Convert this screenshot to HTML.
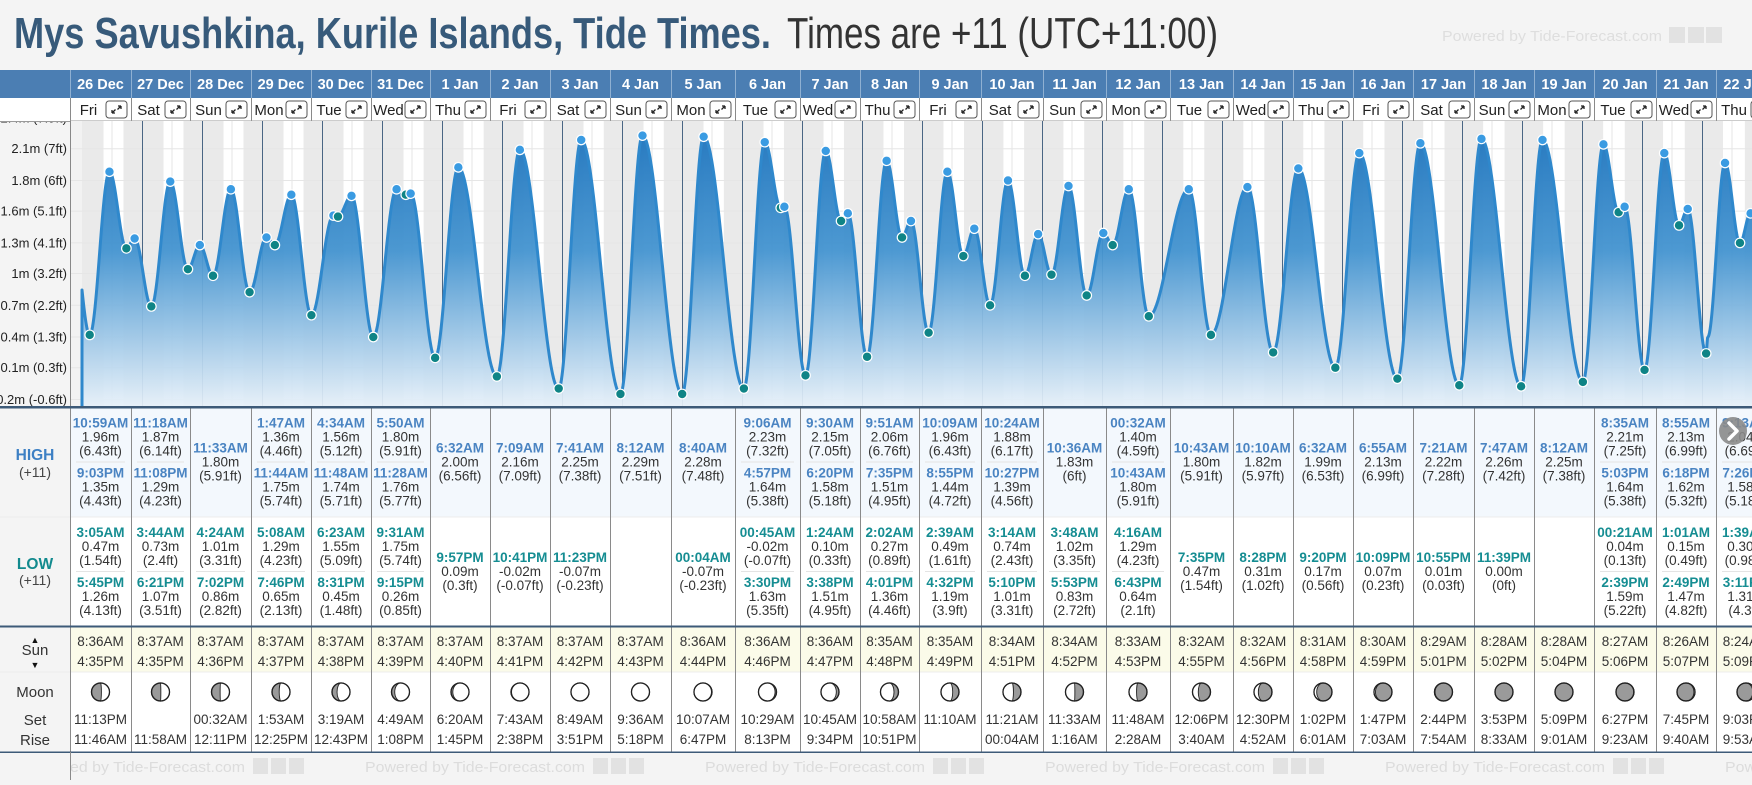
<!DOCTYPE html>
<html><head><meta charset="utf-8"><title>Mys Savushkina Tide Times</title>
<style>
html,body{margin:0;padding:0;background:#f4f4f4;}
body{width:1752px;height:780px;overflow:hidden;position:relative;font-family:"Liberation Sans",sans-serif;}
svg text{font-family:"Liberation Sans","DejaVu Sans",sans-serif;}
</style></head>
<body>
<svg id="root" xmlns="http://www.w3.org/2000/svg" width="1752" height="780" viewBox="0 0 1752 780">
<defs>
<linearGradient id="fillGrad" gradientUnits="userSpaceOnUse" x1="0" y1="125" x2="0" y2="406">
<stop offset="0" stop-color="#1f74bd" stop-opacity="0.97"/>
<stop offset="0.45" stop-color="#4494d0" stop-opacity="0.95"/>
<stop offset="1" stop-color="#e6f0f9" stop-opacity="0.93"/>
</linearGradient>
<clipPath id="chartClip"><rect x="70" y="121" width="1682" height="286"/></clipPath>
<clipPath id="pageClip"><rect x="70" y="0" width="1682" height="780"/></clipPath>
</defs>
<rect x="0" y="0" width="1752" height="780" fill="#f4f4f4"/>
<text x="14" y="48" font-size="44" font-weight="bold" fill="#375a7a" textLength="757" lengthAdjust="spacingAndGlyphs">Mys Savushkina, Kurile Islands, Tide Times.</text>
<text x="787" y="48" font-size="44" fill="#333" textLength="431" lengthAdjust="spacingAndGlyphs">Times are +11 (UTC+11:00)</text>
<g id="layer"></g>
</svg>
<script>
// ---------------- DATA ----------------
const dates = ["26 Dec","27 Dec","28 Dec","29 Dec","30 Dec","31 Dec","1 Jan","2 Jan","3 Jan","4 Jan","5 Jan","6 Jan","7 Jan","8 Jan","9 Jan","10 Jan","11 Jan","12 Jan","13 Jan","14 Jan","15 Jan","16 Jan","17 Jan","18 Jan","19 Jan","20 Jan","21 Jan","22 Jan"];
const dows = ["Fri","Sat","Sun","Mon","Tue","Wed","Thu","Fri","Sat","Sun","Mon","Tue","Wed","Thu","Fri","Sat","Sun","Mon","Tue","Wed","Thu","Fri","Sat","Sun","Mon","Tue","Wed","Thu"];
const highs = [
 [["10:59AM",1.96,"6.43ft"],["9:03PM",1.35,"4.43ft"]],
 [["11:18AM",1.87,"6.14ft"],["11:08PM",1.29,"4.23ft"]],
 [["11:33AM",1.80,"5.91ft"]],
 [["1:47AM",1.36,"4.46ft"],["11:44AM",1.75,"5.74ft"]],
 [["4:34AM",1.56,"5.12ft"],["11:48AM",1.74,"5.71ft"]],
 [["5:50AM",1.80,"5.91ft"],["11:28AM",1.76,"5.77ft"]],
 [["6:32AM",2.00,"6.56ft"]],
 [["7:09AM",2.16,"7.09ft"]],
 [["7:41AM",2.25,"7.38ft"]],
 [["8:12AM",2.29,"7.51ft"]],
 [["8:40AM",2.28,"7.48ft"]],
 [["9:06AM",2.23,"7.32ft"],["4:57PM",1.64,"5.38ft"]],
 [["9:30AM",2.15,"7.05ft"],["6:20PM",1.58,"5.18ft"]],
 [["9:51AM",2.06,"6.76ft"],["7:35PM",1.51,"4.95ft"]],
 [["10:09AM",1.96,"6.43ft"],["8:55PM",1.44,"4.72ft"]],
 [["10:24AM",1.88,"6.17ft"],["10:27PM",1.39,"4.56ft"]],
 [["10:36AM",1.83,"6ft"]],
 [["00:32AM",1.40,"4.59ft"],["10:43AM",1.80,"5.91ft"]],
 [["10:43AM",1.80,"5.91ft"]],
 [["10:10AM",1.82,"5.97ft"]],
 [["6:32AM",1.99,"6.53ft"]],
 [["6:55AM",2.13,"6.99ft"]],
 [["7:21AM",2.22,"7.28ft"]],
 [["7:47AM",2.26,"7.42ft"]],
 [["8:12AM",2.25,"7.38ft"]],
 [["8:35AM",2.21,"7.25ft"],["5:03PM",1.64,"5.38ft"]],
 [["8:55AM",2.13,"6.99ft"],["6:18PM",1.62,"5.32ft"]],
 [["9:13AM",2.04,"6.69ft"],["7:26PM",1.58,"5.18ft"]]
];
const lows = [
 [["3:05AM",0.47,"1.54ft"],["5:45PM",1.26,"4.13ft"]],
 [["3:44AM",0.73,"2.4ft"],["6:21PM",1.07,"3.51ft"]],
 [["4:24AM",1.01,"3.31ft"],["7:02PM",0.86,"2.82ft"]],
 [["5:08AM",1.29,"4.23ft"],["7:46PM",0.65,"2.13ft"]],
 [["6:23AM",1.55,"5.09ft"],["8:31PM",0.45,"1.48ft"]],
 [["9:31AM",1.75,"5.74ft"],["9:15PM",0.26,"0.85ft"]],
 [["9:57PM",0.09,"0.3ft"]],
 [["10:41PM",-0.02,"-0.07ft"]],
 [["11:23PM",-0.07,"-0.23ft"]],
 [],
 [["00:04AM",-0.07,"-0.23ft"]],
 [["00:45AM",-0.02,"-0.07ft"],["3:30PM",1.63,"5.35ft"]],
 [["1:24AM",0.10,"0.33ft"],["3:38PM",1.51,"4.95ft"]],
 [["2:02AM",0.27,"0.89ft"],["4:01PM",1.36,"4.46ft"]],
 [["2:39AM",0.49,"1.61ft"],["4:32PM",1.19,"3.9ft"]],
 [["3:14AM",0.74,"2.43ft"],["5:10PM",1.01,"3.31ft"]],
 [["3:48AM",1.02,"3.35ft"],["5:53PM",0.83,"2.72ft"]],
 [["4:16AM",1.29,"4.23ft"],["6:43PM",0.64,"2.1ft"]],
 [["7:35PM",0.47,"1.54ft"]],
 [["8:28PM",0.31,"1.02ft"]],
 [["9:20PM",0.17,"0.56ft"]],
 [["10:09PM",0.07,"0.23ft"]],
 [["10:55PM",0.01,"0.03ft"]],
 [["11:39PM",0.00,"0ft"]],
 [],
 [["00:21AM",0.04,"0.13ft"],["2:39PM",1.59,"5.22ft"]],
 [["1:01AM",0.15,"0.49ft"],["2:49PM",1.47,"4.82ft"]],
 [["1:39AM",0.30,"0.98ft"],["3:11PM",1.31,"4.3ft"]]
];
const edgeTimes = [-3.5, 26*24+24+2.3];
const edgeValues = [1.38, 0.45];
const sunrise = ["8:36AM","8:37AM","8:37AM","8:37AM","8:37AM","8:37AM","8:37AM","8:37AM","8:37AM","8:37AM","8:36AM","8:36AM","8:36AM","8:35AM","8:35AM","8:34AM","8:34AM","8:33AM","8:32AM","8:32AM","8:31AM","8:30AM","8:29AM","8:28AM","8:28AM","8:27AM","8:26AM","8:24AM"];
const sunset = ["4:35PM","4:35PM","4:36PM","4:37PM","4:38PM","4:39PM","4:40PM","4:41PM","4:42PM","4:43PM","4:44PM","4:46PM","4:47PM","4:48PM","4:49PM","4:51PM","4:52PM","4:53PM","4:55PM","4:56PM","4:58PM","4:59PM","5:01PM","5:02PM","5:04PM","5:06PM","5:07PM","5:09PM"];
const moonSet = ["11:13PM","","00:32AM","1:53AM","3:19AM","4:49AM","6:20AM","7:43AM","8:49AM","9:36AM","10:07AM","10:29AM","10:45AM","10:58AM","11:10AM","11:21AM","11:33AM","11:48AM","12:06PM","12:30PM","1:02PM","1:47PM","2:44PM","3:53PM","5:09PM","6:27PM","7:45PM","9:03PM"];
const moonRise = ["11:46AM","11:58AM","12:11PM","12:25PM","12:43PM","1:08PM","1:45PM","2:38PM","3:51PM","5:18PM","6:47PM","8:13PM","9:34PM","10:51PM","","00:04AM","1:16AM","2:28AM","3:40AM","4:52AM","6:01AM","7:03AM","7:54AM","8:33AM","9:01AM","9:23AM","9:40AM","9:53AM"];
const moonLit = [0.45,0.48,0.52,0.6,0.72,0.82,0.9,0.97,1,1,0.97,0.92,0.85,0.75,0.65,0.58,0.52,0.42,0.32,0.24,0.15,0.08,0.03,0,0,0.02,0.06,0.12];
const moonSide = ["R","R","R","R","R","R","R","R","R","L","L","L","L","L","L","L","L","L","L","L","L","L","L","L","L","R","R","R"];
const tickValues = [2.45,2.17,1.88,1.60,1.31,1.03,0.74,0.45,0.17,-0.12];
const tickLabels = ["2.4m (7.9ft)","2.1m (7ft)","1.8m (6ft)","1.6m (5.1ft)","1.3m (4.1ft)","1m (3.2ft)","0.7m (2.2ft)","0.4m (1.3ft)","0.1m (0.3ft)","-0.2m (-0.6ft)"];

// ---------------- LAYOUT ----------------
const colX = [70,131,190,251,311,371,430,490,550,610,671,735,800,860,919,981,1043,1106,1170,1233,1293,1353,1413,1474,1534,1594,1656,1716,1776];
const CH_TOP = 121, CH_BOT = 406, X0 = 82, DAYW = 60;
function xScale(hours){ return X0 + hours/24*DAYW; }
function yScale(v){ return 394 - (v + 0.07)*109.5; }
function parseT(s){ const m = s.match(/(\d+):(\d+)(AM|PM)/); let h = (+m[1])%12; if(m[3]==="PM") h+=12; return h + (+m[2])/60; }

const NS = "http://www.w3.org/2000/svg";
const layer = document.getElementById('layer');
function el(tag, attrs, parent){ const e = document.createElementNS(NS, tag); for(const k in attrs) e.setAttribute(k, attrs[k]); (parent||layer).appendChild(e); return e; }
function txt(parent, x, y, s, attrs){ const t = el('text', Object.assign({x:x, y:y}, attrs||{}), parent); t.textContent = s; return t; }

const wmTop = el('g', {});


txt(wmTop, 1442, 41, "Powered by Tide-Forecast.com", {"font-size":15, fill:"#dedede", textLength:220, lengthAdjust:"spacingAndGlyphs"});
[1669,1688,1706].forEach(x=>el('rect',{x:x,y:27,width:16,height:16,fill:"#e2e2e2"},wmTop));

// ---------------- HEADER ----------------
const hdr = el('g', {});


el('rect', {x:0,y:70,width:1752,height:28,fill:"#4b7eb3"}, hdr);
el('rect', {x:0,y:98,width:70,height:23,fill:"#ffffff"}, hdr);
el('line', {x1:0,y1:121,x2:70,y2:121,stroke:"#9a9a9a"}, hdr);
dates.forEach((d,i)=>{
  const x = colX[i], w = colX[i+1]-colX[i];
  const g = el('g', {}, hdr);
  
  
  el('line', {x1:x+0.5,y1:70,x2:x+0.5,y2:98,stroke:"#8fb0d2"}, g);
  txt(g, x+w/2, 89, d, {"font-size":14.5,"font-weight":"bold",fill:"#fff","text-anchor":"middle"});
  el('rect', {x:x,y:98,width:w,height:23,fill:"#fff"}, g);
  el('line', {x1:x+0.5,y1:98,x2:x+0.5,y2:121,stroke:"#8a8a8a"}, g);
  el('line', {x1:x,y1:121,x2:x+w,y2:121,stroke:"#9a9a9a"}, g);
  txt(g, x+(w-24)/2, 115, dows[i], {"font-size":15,fill:"#222","text-anchor":"middle"});
  const b = el('g', {}, g);
  
  
  const bx = x+w-25, by = 101;
  el('rect', {x:bx,y:by,width:21,height:17,rx:3,fill:"#fff",stroke:"#555","stroke-width":1}, b);
  el('path', {d:`M${bx+6} ${by+12} L${bx+9.5} ${by+8.5} M${bx+6} ${by+12} l0 -3 M${bx+6} ${by+12} l3 0 M${bx+15} ${by+5} L${bx+11.5} ${by+8.5} M${bx+15} ${by+5} l0 3 M${bx+15} ${by+5} l-3 0`, stroke:"#222","stroke-width":1.3,fill:"none"}, b);
});

// ---------------- CHART ----------------
const chart = el('g', {"clip-path":"url(#chartClip)"});


el('rect', {x:70,y:CH_TOP,width:1682,height:CH_BOT-CH_TOP+1,fill:"#f2f2f2"}, chart);
dates.forEach((d,i)=>{
  const base = i*24;
  const n = el('rect', {x:xScale(base),y:CH_TOP,width:DAYW,height:CH_BOT-CH_TOP+1,fill:"#eaeaea"}, chart);
  
  
  const r = parseT(sunrise[i]), s = parseT(sunset[i]);
  const dl = el('rect', {x:xScale(base+r),y:CH_TOP,width:xScale(base+s)-xScale(base+r),height:CH_BOT-CH_TOP+1,fill:"#ffffff"}, chart);
  
  
  el('line', {x1:xScale(base+12),y1:CH_TOP,x2:xScale(base+12),y2:CH_BOT,stroke:"#e4e4e4"}, chart);
});
tickValues.forEach(v=>{
  const gl = el('line', {x1:70,y1:yScale(v),x2:1752,y2:yScale(v),stroke:"#e6e6e6"}, chart);
  
  
});
dates.forEach((d,i)=>{
  if(i===0) return;
  const ml = el('line', {x1:xScale(i*24)+0.5,y1:CH_TOP,x2:xScale(i*24)+0.5,y2:CH_BOT,stroke:"#4a6684","stroke-width":1}, chart);
  
  
});
const ext = [];
highs.forEach((arr,i)=>arr.forEach(h=>ext.push({t:i*24+parseT(h[0]), v:h[1], type:"H"})));
lows.forEach((arr,i)=>arr.forEach(l=>ext.push({t:i*24+parseT(l[0]), v:l[1], type:"L"})));
edgeTimes.forEach((t,k)=>ext.push({t:t, v:edgeValues[k], type:"E"}));
ext.sort((a,b)=>a.t-b.t);
function valueAt(t){
  for(let k=0;k<ext.length-1;k++){
    const a=ext[k], b=ext[k+1];
    if(t>=a.t && t<=b.t){ const f=(t-a.t)/(b.t-a.t); return a.v + (b.v-a.v)*(1-Math.cos(Math.PI*f))/2; }
  }
  return ext[ext.length-1].v;
}
let pts = [];
const tEnd = 28*24;
for(let t=0;t<=tEnd;t+=0.2){ pts.push([xScale(t), yScale(valueAt(t))]); }
const lineD = "M"+xScale(0).toFixed(1)+" "+CH_BOT+" L"+pts.map(p=>p[0].toFixed(1)+" "+p[1].toFixed(1)).join(" L");
const fillD = lineD + " L"+pts[pts.length-1][0].toFixed(1)+" "+CH_BOT+" Z";
const area = el('path', {d:fillD, fill:"url(#fillGrad)"}, chart);


const line = el('path', {d:lineD, fill:"none", stroke:"#2f88cc","stroke-width":3,"stroke-linejoin":"round"}, chart);


ext.forEach(e=>{
  if(e.type==="E") return;
  const c = el('circle', {cx:xScale(e.t), cy:yScale(e.v), r:4.8, fill:e.type==="H"?"#3a9be2":"#0f8486", stroke:"#fff","stroke-width":1.2}, chart);
  
  
});
const yAxis = el('g', {});


el('rect', {x:0,y:CH_TOP+1,width:70,height:CH_BOT-CH_TOP,fill:"#f4f4f4"}, yAxis);
el('line', {x1:70.5,y1:CH_TOP,x2:70.5,y2:CH_BOT,stroke:"#888"}, yAxis);
tickValues.forEach((v,k)=>{
  const t = txt(yAxis, 67, yScale(v)+4.5, tickLabels[k], {"font-size":13,fill:"#222","text-anchor":"end"});
  
  
});
el('rect', {x:0,y:98,width:70,height:23,fill:"#ffffff"});
el('line', {x1:0,y1:121.5,x2:70,y2:121.5,stroke:"#9a9a9a"});

// ---------------- TABLE ----------------
const tbl = el('g', {});


el('rect', {x:70,y:408,width:1682,height:109,fill:"#f3f8fd"}, tbl);
el('rect', {x:70,y:517,width:1682,height:109,fill:"#ffffff"}, tbl);
el('rect', {x:70,y:627,width:1682,height:45,fill:"#fbfbe9"}, tbl);
el('rect', {x:70,y:672,width:1682,height:80,fill:"#ffffff"}, tbl);
el('rect', {x:0,y:408,width:70,height:344,fill:"#f4f4f4"}, tbl);
el('line', {x1:0,y1:517,x2:1752,y2:517,stroke:"#ececec"}, tbl);
el('line', {x1:0,y1:672,x2:1752,y2:672,stroke:"#ececec"}, tbl);
const lbl = (s, y, attrs, name)=>{ const t = txt(tbl, 35, y, s, Object.assign({"text-anchor":"middle"}, attrs));   };
lbl("HIGH", 460, {"font-size":15.5,"font-weight":"bold",fill:"#3d80c4"}, 'high-row-label');
lbl("(+11)", 477, {"font-size":14,fill:"#444"}, 'high-row-tz');
lbl("LOW", 569, {"font-size":15.5,"font-weight":"bold",fill:"#128a8e"}, 'low-row-label');
lbl("(+11)", 585, {"font-size":14,fill:"#444"}, 'low-row-tz');
lbl("▲", 643, {"font-size":9,fill:"#111"}, 'sunrise-icon');
lbl("Sun", 655, {"font-size":15,fill:"#333"}, 'sun-row-label');
lbl("▼", 668, {"font-size":9,fill:"#111"}, 'sunset-icon');
lbl("Moon", 697, {"font-size":15,fill:"#333"}, 'moon-row-label');
lbl("Set", 725, {"font-size":15,fill:"#333"}, 'moonset-label');
lbl("Rise", 745, {"font-size":15,fill:"#333"}, 'moonrise-label');

function entries(g, arr, cx, center, w, color){
  const n = arr.length;
  arr.forEach((e,k)=>{
    const mid = n===1 ? center : center + (k-0.5)*50;
    txt(g, cx, mid-14+4.5, e[0], {"font-size":13.5,"font-weight":"bold",fill:color,"text-anchor":"middle"});
    txt(g, cx, mid+4.5, e[1].toFixed(2)+"m", {"font-size":13.5,fill:"#333","text-anchor":"middle"});
    txt(g, cx, mid+14+4.5, "("+e[2]+")", {"font-size":13.5,fill:"#333","text-anchor":"middle"});
  });
  if(n===2) el('line', {x1:cx-w/2+6,y1:center,x2:cx+w/2-6,y2:center,stroke:"#e4e4e4"}, g);
}
function moon(g, cx, cy, f, side){
  const r = 9;
  el('circle', {cx:cx,cy:cy,r:r,fill:"#9a9a9a",stroke:"#222","stroke-width":1.2}, g);
  const rx = Math.max(Math.abs(2*f-1)*r, 0.01);
  let d;
  if(side==="R") d = `M${cx} ${cy-r} A${r} ${r} 0 0 1 ${cx} ${cy+r} A${rx} ${r} 0 0 ${f>0.5?1:0} ${cx} ${cy-r} Z`;
  else d = `M${cx} ${cy-r} A${r} ${r} 0 0 0 ${cx} ${cy+r} A${rx} ${r} 0 0 ${f>0.5?0:1} ${cx} ${cy-r} Z`;
  if(f>0.001) el('path', {d:d, fill:"#fff", stroke:"#222","stroke-width":0.9}, g);
  el('circle', {cx:cx,cy:cy,r:r,fill:"none",stroke:"#222","stroke-width":1.3}, g);
}
dates.forEach((d,i)=>{
  const x = colX[i], w = colX[i+1]-colX[i], cx = x + w/2;
  const hg = el('g', {}, tbl);
  
  
  entries(hg, highs[i], cx, 462, w, "#4a84c2");
  const lg = el('g', {}, tbl);
  
  
  entries(lg, lows[i], cx, 571.5, w, "#158d92");
  const sg = el('g', {}, tbl);
  
  
  txt(sg, cx, 646, sunrise[i], {"font-size":13.5,fill:"#333","text-anchor":"middle"});
  txt(sg, cx, 666, sunset[i], {"font-size":13.5,fill:"#333","text-anchor":"middle"});
  const mg = el('g', {}, tbl);
  
  
  moon(mg, cx, 692, moonLit[i], moonSide[i]);
  txt(mg, cx, 724, moonSet[i], {"font-size":13.5,fill:"#333","text-anchor":"middle"});
  txt(mg, cx, 744, moonRise[i], {"font-size":13.5,fill:"#333","text-anchor":"middle"});
});
colX.forEach(x=>{ el('line', {x1:x+0.5,y1:408,x2:x+0.5,y2:752,stroke:"#8a8a8a"}, tbl); });
el('rect', {x:0,y:406,width:1752,height:2.5,fill:"#3d5a78"}, tbl);
el('rect', {x:0,y:625.5,width:1752,height:2,fill:"#3d5a78"}, tbl);
el('rect', {x:0,y:751.5,width:1752,height:1.5,fill:"#3d5a78"}, tbl);

const wm = el('g', {"clip-path":"url(#pageClip)"});


el('rect', {x:70,y:753,width:1682,height:27,fill:"#f4f4f4"}, wm);
for(let x=25; x<1752; x+=340){
  txt(wm, x, 772, "Powered by Tide-Forecast.com", {"font-size":15,fill:"#dcdcdc",textLength:220,lengthAdjust:"spacingAndGlyphs"});
  [x+228,x+246,x+264].forEach(bx=>el('rect',{x:bx,y:758,width:15,height:16,fill:"#e2e2e2"},wm));
}
el('line', {x1:70.5,y1:752,x2:70.5,y2:780,stroke:"#8a8a8a"});

const nb = el('g', {});


el('circle', {cx:1733,cy:431,r:14,fill:"#8a8a8a","fill-opacity":0.9}, nb);
el('path', {d:"M1729 423 L1737 431 L1729 439", fill:"none", stroke:"#fff","stroke-width":3.5,"stroke-linecap":"round","stroke-linejoin":"round"}, nb);
</script>
</body></html>
